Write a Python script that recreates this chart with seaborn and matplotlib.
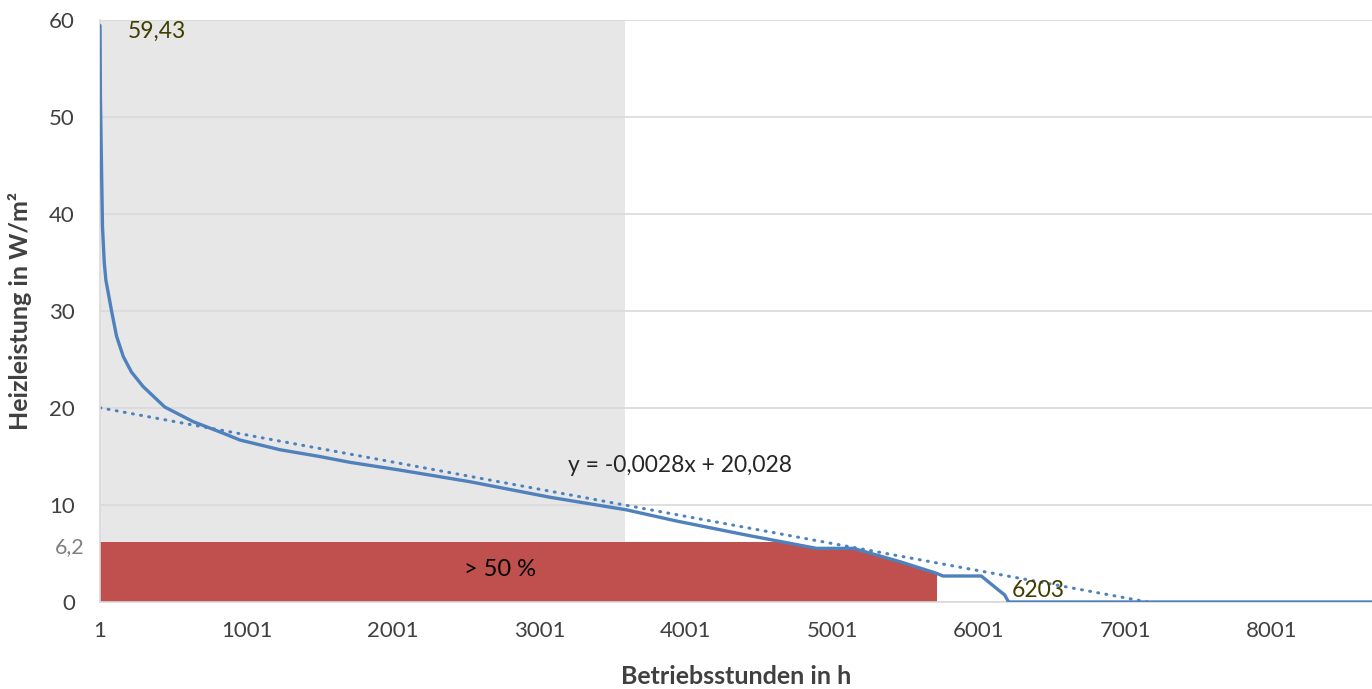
import numpy as np
import pandas as pd
import matplotlib
matplotlib.use("Agg")
import matplotlib.pyplot as plt
import matplotlib.transforms as mtransforms
import seaborn as sns

# ---- data ----
hours = [1, 4, 10, 18, 30, 41, 80, 114, 160, 216, 296, 443, 636, 842, 956, 1229,
         1500, 1707, 2048, 2526, 3072, 3595, 3936, 4414, 4892, 5142, 5461, 5711,
         5755, 6017, 6120, 6177, 6203, 8760]
heat = [59.43, 52.0, 46.0, 38.7, 35.0, 33.2, 30.0, 27.4, 25.3, 23.7, 22.2, 20.1,
        18.6, 17.4, 16.7, 15.7, 15.0, 14.4, 13.6, 12.4, 10.8, 9.5, 8.35, 6.9,
        5.53, 5.53, 4.16, 2.96, 2.68, 2.68, 1.41, 0.72, 0.0, 0.0]
trend_slope = -0.0028
trend_intercept = 20.028
gray_end = 3585          # shaded region end (h)
red_end = 5713           # red region end (h)
red_level = 6.2          # threshold W/m²
peak_label = "59,43"
zero_label = "6203"
xticks = [1, 1001, 2001, 3001, 4001, 5001, 6001, 7001, 8001]
yticks = [0, 10, 20, 30, 40, 50, 60]

sns.set_theme(style="white")
plt.rcParams['font.family'] = ['Lato', 'DejaVu Sans']

fig = plt.figure(figsize=(13.72, 6.89), dpi=100)
ax = fig.add_axes([100/1372, 1-602/689, 1272/1372, (602-20)/689])

blue = "#4F81BD"
df = pd.DataFrame({"h": hours, "q": heat})

# gray shaded region
ax.fill_between([1, gray_end], 0, 60, color="#E7E7E7", lw=0, zorder=0)

# red region: below min(curve, 6.2) up to red_end
under = ax.fill_between(df["h"], 0, df["q"], color="none", lw=0)
red = ax.fill_between([1, red_end], 0, red_level, color="#C0504D", lw=0, zorder=1)
red.set_clip_path(under.get_paths()[0], ax.transData)

# curve
sns.lineplot(data=df, x="h", y="q", ax=ax, color=blue, lw=2.4, zorder=3)

# trendline
tx = np.array([1, 8760])
ax.plot(tx, trend_intercept + trend_slope * tx, color=blue, lw=2.2,
        ls=(0, (0.3, 2.4)), dash_capstyle="round", zorder=2)

ax.set_xlim(1, 8684)
ax.set_ylim(0, 60)
ax.set_xticks(xticks)
ax.set_xticklabels([str(t) for t in xticks])
ax.set_yticks(yticks)
ax.yaxis.grid(True, color="#D9D9D9", lw=1.2)
ax.set_axisbelow(True)
for s in ["top", "right"]:
    ax.spines[s].set_visible(False)
ax.spines["left"].set_color("#D9D9D9")
ax.spines["bottom"].set_color("#D9D9D9")
ax.spines["left"].set_linewidth(1.2)
ax.spines["bottom"].set_linewidth(1.2)
ax.tick_params(axis="y", length=0, pad=18, labelsize=16, labelcolor="#404040")
ax.tick_params(axis="x", length=0, pad=14, labelsize=16, labelcolor="#404040")

ax.set_xlabel("Betriebsstunden in h", fontsize=18, fontweight="bold",
              color="#404040", labelpad=17)
ax.set_ylabel("Heizleistung in W/m²", fontsize=18, fontweight="bold",
              color="#404040", labelpad=12)

olive = "#403D00"
ax.text(190, 58.8, peak_label, fontsize=16.5, color=olive, va="center", ha="left")
ax.text(6225, 1.2, zero_label, fontsize=16.5, color=olive, va="center", ha="left")
ax.text(3960, 14.1, f"y = {trend_slope:.4f}x + {trend_intercept:.3f}".replace(".", ","),
        fontsize=16.5, color="#262626", ha="center", va="center")
ax.text(2730, 3.3, "> 50 %", fontsize=17, color="black", ha="center", va="center", zorder=4)

trans = mtransforms.blended_transform_factory(ax.transAxes, ax.transData)
ax.text(-0.012, 5.7, "6,2", transform=trans, fontsize=15.5, color="#808080",
        ha="right", va="center")

fig.savefig("out.png", dpi=100)
